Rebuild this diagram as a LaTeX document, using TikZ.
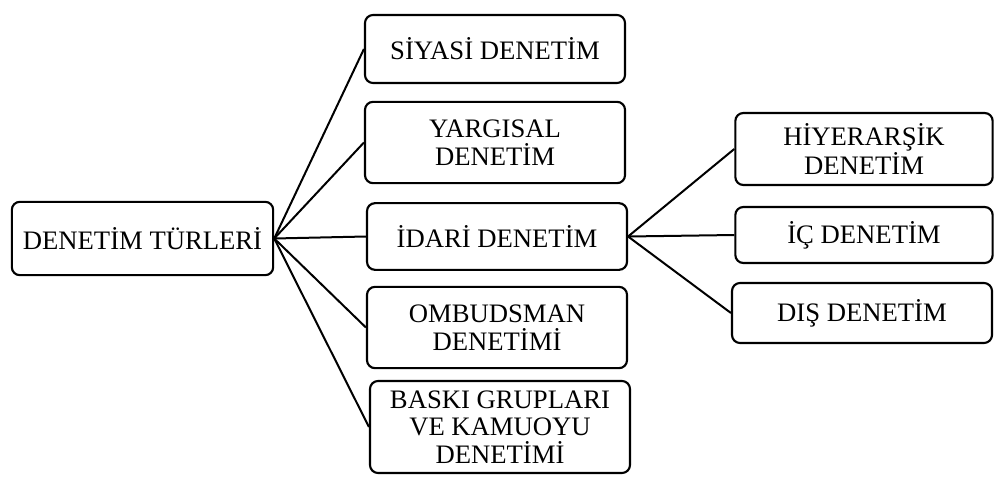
\documentclass[tikz,border=0pt]{standalone}
\usepackage{fontspec}
\setmainfont{Liberation Serif}
\usepackage{xcolor}

\begin{document}
\begin{tikzpicture}[
      x=0.75pt, y=-0.75pt,
      box/.style={rectangle, draw, line width=1.6pt, rounded corners=6pt, minimum width=195pt, align=center, inner sep=2pt, font=\fontsize{20}{20.6}\selectfont},
      link/.style={line width=1.5pt}
    ]
      \useasboundingbox (0,0) rectangle (1002,489);
      \node[box, minimum width=196pt, minimum height=55pt] (turler)  at (142.5,238.5) {DENET\.IM T\"URLER\.I};

      \node[box, minimum height=51pt] (siyasi)    at (495,49)    {S\.IYAS\.I DENET\.IM};
      \node[box, minimum height=61pt] (yargisal)  at (495,142.5) {YARGISAL\\DENET\.IM};
      \node[box, minimum height=50pt] (idari)     at (497,236.5) {\.IDAR\.I DENET\.IM};
      \node[box, minimum height=61pt] (ombudsman) at (497,327.5) {OMBUDSMAN\\DENET\.IM\.I};
      \node[box, minimum height=69pt] (baski)     at (500,427)   {BASKI GRUPLARI\\VE KAMUOYU\\DENET\.IM\.I};

      \node[box, minimum width=193pt, minimum height=54pt] (hiyerarsik) at (864,149) {H\.IYERAR\c{S}\.IK\\DENET\.IM};
      \node[box, minimum width=193pt, minimum height=42pt] (ic)         at (864,235) {\.I\c{C} DENET\.IM};
      \node[box, minimum height=45pt] (dis)        at (862,313) {DI\c{S} DENET\.IM};

      \draw[link] (turler.east) -- (siyasi.west);
      \draw[link] (turler.east) -- (yargisal.west);
      \draw[link] (turler.east) -- (idari.west);
      \draw[link] (turler.east) -- (ombudsman.west);
      \draw[link] (turler.east) -- (baski.west);

      \draw[link] (idari.east) -- (hiyerarsik.west);
      \draw[link] (idari.east) -- (ic.west);
      \draw[link] (idari.east) -- (dis.west);
    \end{tikzpicture}
\end{document}
